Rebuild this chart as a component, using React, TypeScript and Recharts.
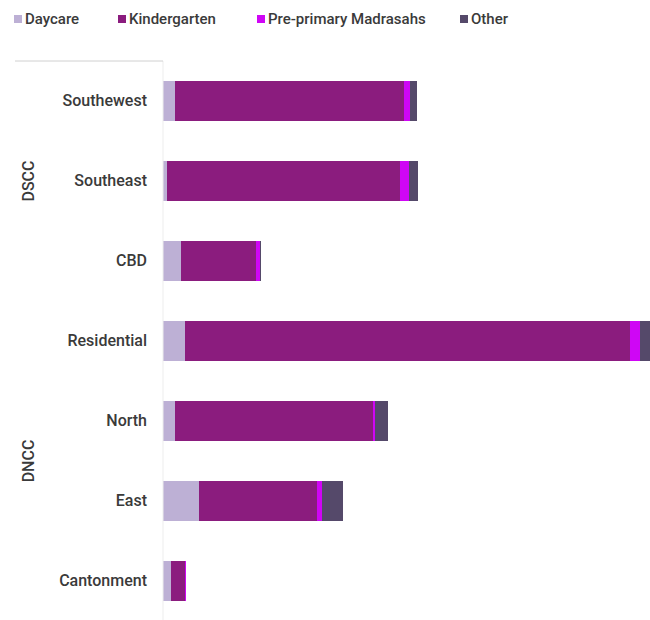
import React from 'react';
import { BarChart, Bar, XAxis, YAxis } from 'recharts';

const regions = ['Southewest', 'Southeast', 'CBD', 'Residential', 'North', 'East', 'Cantonment'];
const daycare = [12, 4, 18, 22, 12, 36, 8];
const kindergarten = [229, 233, 75, 445, 198, 118, 14];
const madrasahs = [6, 9, 4, 10, 2, 5, 1];
const other = [7, 9, 1, 10, 13, 21, 0];
const groups = [
  { name: 'DSCC', first: 0, last: 2 },
  { name: 'DNCC', first: 3, last: 6 },
];

const series = [
  { key: 'daycare', label: 'Daycare', color: '#bdb0d5' },
  { key: 'kindergarten', label: 'Kindergarten', color: '#8b1c7e' },
  { key: 'madrasahs', label: 'Pre-primary Madrasahs', color: '#cf06f5' },
  { key: 'other', label: 'Other', color: '#55496a' },
];

const data = regions.map((region, i) => ({
  region,
  daycare: daycare[i],
  kindergarten: kindergarten[i],
  madrasahs: madrasahs[i],
  other: other[i],
}));

const STEP = 80;
const FONT = 'Roboto, "Open Sans", sans-serif';
const legendLeft = [14, 118, 257, 460];

const RegionTick = (props: any) => {
  const { x, y, payload } = props;
  const idx = payload.index;
  const group = groups.find((g) => g.first === idx);
  return (
    <g>
      {idx === 0 && <line x1={15} x2={163} y1={y - STEP / 2} y2={y - STEP / 2} stroke="#d0d0d0" strokeWidth={1} />}
      <text x={x - 8} y={y} dy={5} textAnchor="end" fill="#3a3a3a" fontSize={16} fontWeight={500} fontFamily={FONT}>
        {payload.value}
      </text>
      {group && (
        <text
          x={0}
          y={0}
          transform={`translate(34, ${y + ((group.last - group.first) / 2) * STEP}) rotate(-90)`}
          textAnchor="middle"
          fill="#3a3a3a"
          fontSize={16}
          fontWeight={500}
          fontFamily={FONT}
        >
          {group.name}
        </text>
      )}
    </g>
  );
};

export default function App() {
  return (
    <div style={{ position: 'absolute', left: 0, top: 0, width: 650, height: 620, background: '#fff' }}>
      {series.map((s, i) => (
        <div
          key={s.key}
          style={{
            position: 'absolute',
            left: legendLeft[i],
            top: 10,
            display: 'flex',
            alignItems: 'center',
            fontFamily: FONT,
            fontSize: 15,
            fontWeight: 500,
            color: '#3a3a3a',
            whiteSpace: 'nowrap',
          }}
        >
          <span style={{ width: 8, height: 8, background: s.color, marginRight: 3, display: 'inline-block' }} />
          {s.label}
        </div>
      ))}
      <BarChart
        layout="vertical"
        width={650}
        height={620}
        data={data}
        margin={{ top: 61, right: 0, bottom: -1, left: 0 }}
        barSize={40}
      >
        <XAxis type="number" hide domain={[0, 487]} allowDataOverflow />
        <YAxis
          type="category"
          dataKey="region"
          width={163}
          tick={<RegionTick />}
          tickLine={false}
          axisLine={{ stroke: '#ededed' }}
          interval={0}
        />
        {series.map((s) => (
          <Bar key={s.key} dataKey={s.key} stackId="a" fill={s.color} isAnimationActive={false} />
        ))}
      </BarChart>
    </div>
  );
}
